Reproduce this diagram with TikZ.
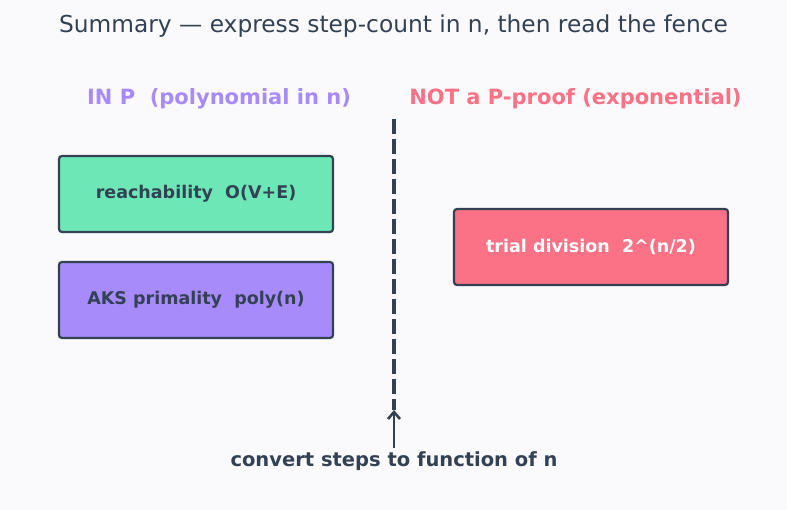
\documentclass[tikz,border=0pt]{standalone}
\usepackage{fontspec}
\setmainfont{DejaVu Sans}
\usetikzlibrary{positioning,arrows.meta}
\definecolor{inkdark}{HTML}{334155}
\definecolor{pagebg}{HTML}{FAFAFC}
\definecolor{polygreen}{HTML}{6EE7B7}
\definecolor{polyviolet}{HTML}{A78BFA}
\definecolor{exprose}{HTML}{FB7185}
\tikzset{
  algobox/.style={draw=inkdark,line width=2.2pt,rounded corners=3pt,
    minimum width=274pt,minimum height=76pt,inner sep=0pt,
    font=\fontsize{17.5}{21}\selectfont\bfseries,text=inkdark},
  colhead/.style={font=\fontsize{21}{25}\selectfont\bfseries},
  fence/.style={draw=inkdark,line width=3.2pt,dash pattern=on 15pt off 5pt}
}
\begin{document}
\begin{tikzpicture}[x=1pt,y=-1pt]
  \fill[pagebg] (0,0) rectangle (787,510);
  \useasboundingbox (0,0) rectangle (787,510);
  \node[font=\fontsize{23.3}{28}\selectfont,text=inkdark] (title) at (393.5,26) {Summary — express step-count in n, then read the fence};
  % column headings
  \node[colhead,text=polyviolet] (inp) at (219,99) {IN P\ \ (polynomial in n)};
  \node[colhead,text=exprose] (notp) at (575.5,99) {NOT a P-proof (exponential)};
  % the fence
  \coordinate (fencetop) at (394,119);
  \coordinate (fencebot) at (394,410);
  \draw[fence] (fencetop) -- (fencebot);
  % algorithms
  \node[algobox,fill=polygreen] (reach) at (196,194) {reachability\ \ O(V+E)};
  \node[algobox,fill=polyviolet,below=27.8pt of reach] (aks) {AKS primality\ \ poly(n)};
  \node[algobox,fill=exprose,text=white] (trial) at (591,247) {trial division\ \ 2\textasciicircum(n/2)};
  % how to read it
  \node[font=\fontsize{19.5}{23}\selectfont\bfseries,text=inkdark] (howto) at (394,461) {convert steps to function of n};
  \draw[-{Straight Barb[length=7pt,width=12pt]},inkdark,line width=2.6pt] (howto.north) -- (fencebot);
\end{tikzpicture}
\end{document}
